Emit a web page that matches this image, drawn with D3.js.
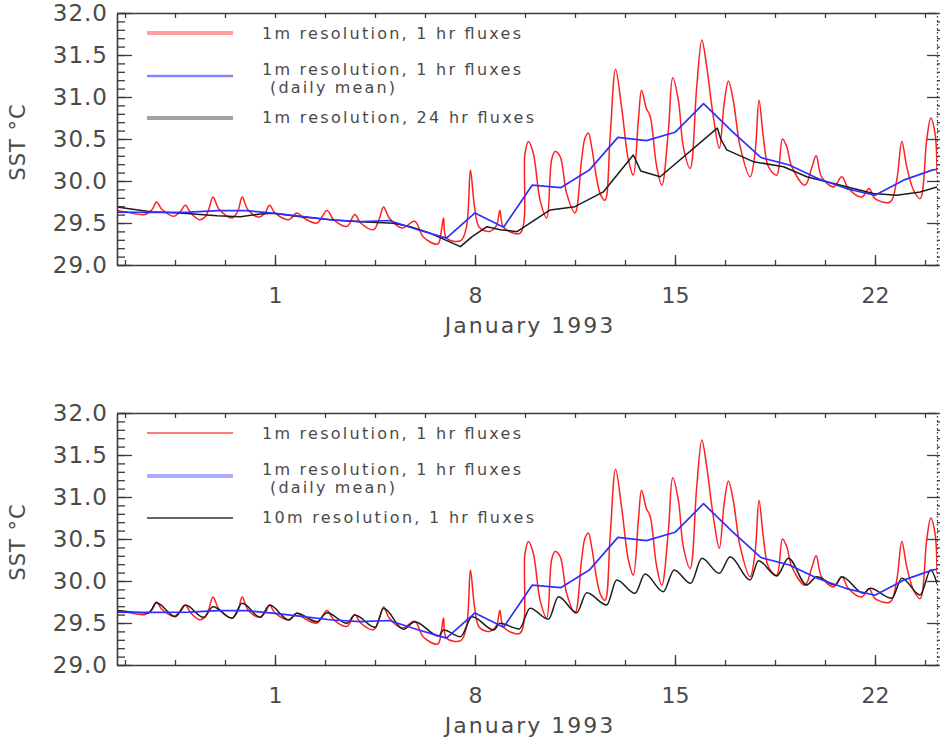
<!DOCTYPE html>
<html>
<head>
<meta charset="utf-8" />
<title>SST January 1993</title>
<style>
  body { margin: 0; background: #fff; }
  text { font-family: "DejaVu Sans", sans-serif; fill: #4a4a4a; }
  .line { fill: none; stroke-linejoin: round; stroke-linecap: round; }
  .axis path, .axis line { stroke: #3a3a3a; stroke-width: 1.3px; }
</style>
<script src="https://d3js.org/d3.v7.min.js"></script>
</head>
<body>
<svg width="940" height="742"></svg>
<script>
// x extent of the plots in days of January 1993 (Dec 31 = 0)
var dayRange = [-4.53, 24.17]
var sstRange = [29, 32]
var dayTicks = [1, 8, 15, 22]
var sstTicks = [29.0, 29.5, 30.0, 30.5, 31.0, 31.5, 32.0]

// 1m resolution, 1 hr fluxes  [day, SST]
var red1m = [
  [-4.53, 29.65], [-4.2, 29.63], [-3.55, 29.60], [-3.3, 29.66], [-3.15, 29.75], [-2.95, 29.66],
  [-2.55, 29.58], [-2.3, 29.64], [-2.14, 29.71], [-1.95, 29.62], [-1.65, 29.54], [-1.45, 29.57],
  [-1.32, 29.66], [-1.17, 29.81], [-0.95, 29.66], [-0.5, 29.56], [-0.3, 29.64], [-0.15, 29.81],
  [0.05, 29.66], [0.43, 29.57], [0.65, 29.62], [0.81, 29.71], [1.0, 29.62], [1.48, 29.54],
  [1.77, 29.62], [2.0, 29.56], [2.47, 29.50], [2.82, 29.65], [3.05, 29.54], [3.52, 29.46],
  [3.79, 29.60], [4.0, 29.50], [4.45, 29.42], [4.65, 29.55], [4.80, 29.69], [5.0, 29.56],
  [5.45, 29.44], [5.89, 29.52], [6.2, 29.33], [6.7, 29.25], [6.82, 29.40], [6.9, 29.56],
  [7.0, 29.32], [7.5, 29.29], [7.7, 29.45], [7.84, 30.13], [7.98, 29.70], [8.15, 29.45],
  [8.5, 29.40], [8.75, 29.47], [8.87, 29.65], [9.0, 29.45], [9.58, 29.38], [9.75, 30.33],
  [9.87, 30.47], [10.04, 30.33], [10.28, 29.77], [10.51, 29.56], [10.68, 30.25], [10.80, 30.35],
  [10.98, 30.29], [11.21, 29.85], [11.50, 29.62], [11.73, 30.25], [11.85, 30.51], [11.97, 30.57],
  [12.08, 30.41], [12.38, 29.85], [12.55, 29.77], [12.73, 30.53], [12.92, 31.33], [13.13, 30.88],
  [13.37, 30.25], [13.54, 30.07], [13.72, 30.73], [13.83, 31.08], [13.99, 30.87], [14.13, 30.77],
  [14.36, 30.17], [14.54, 29.95], [14.77, 30.61], [14.92, 31.23], [15.12, 30.96], [15.29, 30.41],
  [15.53, 30.15], [15.76, 31.12], [15.94, 31.68], [16.11, 31.36], [16.34, 30.77], [16.55, 30.39],
  [16.72, 30.92], [16.87, 31.19], [17.04, 30.96], [17.28, 30.41], [17.63, 30.05], [17.80, 30.33],
  [17.94, 30.96], [18.09, 30.53], [18.27, 30.17], [18.56, 30.07], [18.76, 30.50], [18.91, 30.41],
  [19.09, 30.17], [19.55, 29.95], [19.78, 30.15], [19.94, 30.30], [20.13, 30.05], [20.55, 29.93],
  [20.84, 30.05], [21.07, 29.91], [21.54, 29.81], [21.79, 29.91], [22.0, 29.79], [22.53, 29.75],
  [22.76, 30.01], [22.94, 30.47], [23.11, 30.17], [23.35, 29.89], [23.58, 29.79], [23.81, 30.49],
  [23.95, 30.75], [24.1, 30.57], [24.17, 30.10]
]

// 1m resolution, 1 hr fluxes, daily mean
var blueDaily = [
  [-4.53, 29.63], [-4, 29.627], [-3, 29.627], [-2, 29.63], [-1, 29.647], [0, 29.647],
  [1, 29.615], [2, 29.575], [3, 29.536], [4, 29.516], [5, 29.53], [6, 29.42], [7, 29.32],
  [8, 29.62], [9, 29.45], [10, 29.95], [11, 29.92], [12, 30.13], [13, 30.52], [14, 30.48],
  [15, 30.58], [16, 30.92], [17, 30.59], [18, 30.28], [19, 30.19], [20, 30.03], [21, 29.91],
  [22, 29.83], [23, 30.01], [24, 30.13], [24.17, 30.14]
]

// 1m resolution, 24 hr fluxes
var black24hr = [
  [-4.53, 29.69], [-3.36, 29.635], [-2.2, 29.615], [-1.03, 29.587], [-0.21, 29.575], [0.49, 29.607],
  [0.95, 29.615], [1.89, 29.575], [3.05, 29.536], [4.0, 29.516], [5.15, 29.496], [5.74, 29.456],
  [6.44, 29.377], [7.49, 29.218], [7.9, 29.337], [8.42, 29.456], [8.89, 29.42], [9.47, 29.397],
  [10.63, 29.655], [11.5, 29.694], [12.49, 29.87], [13.54, 30.31], [13.8, 30.12], [14.48, 30.05],
  [16.48, 30.63], [16.6, 30.5], [16.81, 30.37], [17.74, 30.23], [18.8, 30.17], [19.61, 30.05],
  [20.55, 29.97], [21.94, 29.85], [22.76, 29.83], [23.58, 29.87], [24.17, 29.93]
]

// 10m resolution, 1 hr fluxes
var black10m = [
  [-4.53, 29.65], [-3.42, 29.62], [-3.15, 29.74], [-2.49, 29.575], [-2.14, 29.714], [-1.5, 29.567],
  [-1.17, 29.694], [-0.5, 29.556], [-0.15, 29.734], [0.49, 29.567], [0.81, 29.714], [1.48, 29.536],
  [1.77, 29.615], [2.47, 29.516], [2.82, 29.623], [3.52, 29.496], [3.79, 29.595], [4.51, 29.448],
  [4.8, 29.675], [5.5, 29.425], [5.89, 29.516], [6.73, 29.345], [6.9, 29.417], [7.49, 29.337],
  [7.9, 29.575], [8.66, 29.417], [8.87, 29.496], [9.55, 29.43], [9.93, 29.675], [10.57, 29.544],
  [10.92, 29.813], [11.56, 29.623], [11.91, 29.861], [12.61, 29.714], [12.96, 30.012], [13.6, 29.853],
  [13.95, 30.083], [14.59, 29.873], [14.97, 30.131], [15.55, 29.972], [15.94, 30.27], [16.55, 30.091],
  [16.93, 30.29], [17.63, 30.012], [17.92, 30.242], [18.56, 30.06], [18.97, 30.27], [19.61, 29.952],
  [19.96, 30.052], [20.6, 29.952], [20.84, 30.052], [21.6, 29.853], [21.83, 29.913], [22.59, 29.794],
  [22.94, 30.032], [23.58, 29.833], [23.95, 30.131], [24.17, 29.972]
]

var topLegend = ['1m resolution, 1 hr fluxes', '1m resolution, 1 hr fluxes', '1m resolution, 24 hr fluxes']
var bottomLegend = ['1m resolution, 1 hr fluxes', '1m resolution, 1 hr fluxes', '10m resolution, 1 hr fluxes']

var svg = d3.select('svg')
var plotW = 820, plotH = 252

var x = d3.scaleLinear().domain(dayRange).range([0, plotW])
var y = d3.scaleLinear().domain(sstRange).range([plotH, 0])

var dayMinor = d3.range(-4.25, 24.2, 1.75)
var sstMinor = d3.range(29, 32.001, 0.1)

var smooth = d3.line().x(function (d) { return x(d[0]) }).y(function (d) { return y(d[1]) }).curve(d3.curveCatmullRom.alpha(0.5))
var soft = d3.line().x(function (d) { return x(d[0]) }).y(function (d) { return y(d[1]) }).curve(d3.curveMonotoneX)
var straight = d3.line().x(function (d) { return x(d[0]) }).y(function (d) { return y(d[1]) })

function panel(top, id, third, thirdSmooth, labels, keys) {
  var g = svg.append('g').attr('transform', 'translate(117,' + top + ')')

  g.append('clipPath').attr('id', id).append('rect').attr('width', plotW).attr('height', plotH)

  var plot = g.append('g').attr('clip-path', 'url(#' + id + ')')
  plot.append('path').datum(red1m).attr('class', 'line').attr('d', smooth)
    .style('stroke', '#ff2020').style('stroke-width', 1.5)
  plot.append('path').datum(third).attr('class', 'line').attr('d', thirdSmooth ? soft : straight)
    .style('stroke', '#1c1c1c').style('stroke-width', 1.5)
  plot.append('path').datum(blueDaily).attr('class', 'line').attr('d', straight)
    .style('stroke', '#3030ff').style('stroke-width', 1.7)

  // left axis: minor + major ticks inward, labels outside
  g.append('g').attr('class', 'axis')
    .call(d3.axisRight(y).tickValues(sstMinor).tickSize(8).tickSizeOuter(0).tickFormat(''))
  var ly = g.append('g').attr('class', 'axis')
    .call(d3.axisLeft(y).tickValues(sstTicks).tickSize(-15).tickSizeOuter(0).tickPadding(9).tickFormat(d3.format('.1f')))
  ly.selectAll('text').style('font-size', '23px').style('letter-spacing', '1px').style('fill', '#4a4a4a')

  // right axis (dotted)
  var ry = g.append('g').attr('class', 'axis').attr('transform', 'translate(' + plotW + ',0)')
    .call(d3.axisLeft(y).tickValues(sstMinor).tickSize(-4).tickSizeOuter(0).tickFormat(''))
  ry.select('.domain').style('stroke-dasharray', '1.5,2.5')
  g.append('g').attr('class', 'axis').attr('transform', 'translate(' + plotW + ',0)')
    .call(d3.axisRight(y).tickValues(sstTicks).tickSize(-10).tickSizeOuter(0).tickFormat(''))
    .select('.domain').remove()

  // bottom axis
  g.append('g').attr('class', 'axis').attr('transform', 'translate(0,' + plotH + ')')
    .call(d3.axisTop(x).tickValues(dayMinor).tickSize(5).tickSizeOuter(0).tickFormat(''))
  var bx = g.append('g').attr('class', 'axis').attr('transform', 'translate(0,' + plotH + ')')
    .call(d3.axisBottom(x).tickValues(dayTicks).tickSize(-10).tickSizeOuter(0).tickPadding(22).tickFormat(d3.format('d')))
  bx.selectAll('text').style('font-size', '22px').style('fill', '#4a4a4a')
  bx.select('.domain').remove()

  // top axis
  g.append('g').attr('class', 'axis')
    .call(d3.axisBottom(x).tickValues(dayMinor).tickSize(5).tickSizeOuter(0).tickFormat(''))

  // titles
  g.append('text').attr('x', x(dayRange[0]) + 413).attr('y', plotH + 68)
    .attr('text-anchor', 'middle').style('font-size', '22px').style('letter-spacing', '2px')
    .text('January 1993')
  g.append('text').attr('transform', 'translate(-92,' + 129 + ') rotate(-90)')
    .attr('text-anchor', 'middle').style('font-size', '21px').style('letter-spacing', '1px')
    .text('SST \u00b0C')

  // legend
  var rows = [20, 63, 105]
  var lens = [259, 259, labels[2].length > 26 ? 272 : 270]
  keys.forEach(function (k, i) {
    g.append('line').attr('x1', 30).attr('x2', 116).attr('y1', rows[i]).attr('y2', rows[i])
      .style('stroke', k.c).style('stroke-width', k.w)
  })
  var ty = [rows[0] + 6, rows[1] - 1, rows[2] + 5]
  labels.forEach(function (t, i) {
    g.append('text').attr('x', 145).attr('y', ty[i]).style('font-size', '16px')
      .attr('textLength', lens[i]).attr('lengthAdjust', 'spacing').text(t)
  })
  g.append('text').attr('x', 153).attr('y', rows[1] + 17).style('font-size', '16px')
    .attr('textLength', 125).attr('lengthAdjust', 'spacing').text('(daily mean)')
}

panel(13, 'clipTop', black24hr, false, topLegend,
  [{ c: '#ffa0a0', w: 4 }, { c: '#8585ff', w: 2.5 }, { c: '#a3a3a3', w: 4 }])
panel(413, 'clipBottom', black10m, true, bottomLegend,
  [{ c: '#ff4a4a', w: 1.5 }, { c: '#aaaaff', w: 4 }, { c: '#333', w: 1.5 }])
</script>
</body>
</html>
